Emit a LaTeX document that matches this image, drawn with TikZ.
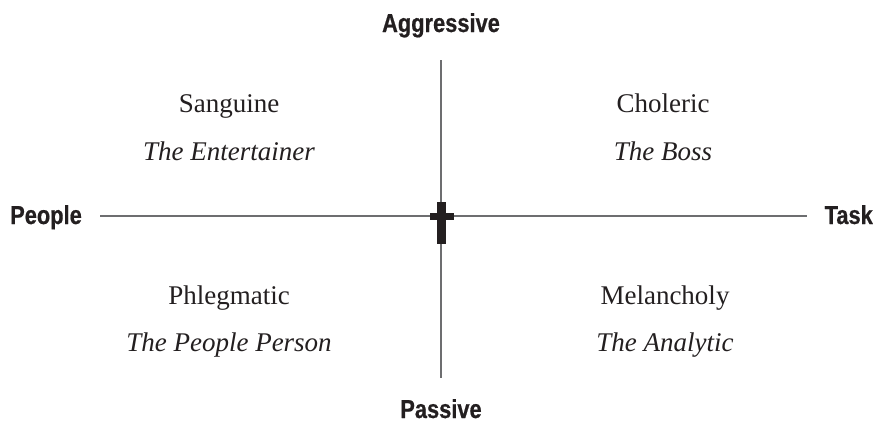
\documentclass[tikz,border=0pt]{standalone}
\usepackage{fontspec}
\setmainfont{Liberation Serif}
\newfontfamily\axisfont{Liberation Sans}[FakeStretch=0.84,FakeBold=0.6]
\usepackage{tikz}
\usetikzlibrary{positioning,calc}
\definecolor{ink}{HTML}{231F20}
\definecolor{axisgray}{HTML}{6D6E70}

\begin{document}
\begin{tikzpicture}[
    x=1pt, y=-1pt,
    every node/.style={inner sep=0pt, text=ink},
    axislabel/.style={font=\axisfont\bfseries\fontsize{26}{30}\selectfont},
    typelabel/.style={font=\fontsize{27}{31}\selectfont, anchor=base},
    nicklabel/.style={font=\itshape\fontsize{27}{31}\selectfont, anchor=base},
    axisline/.style={draw=axisgray, line width=1.5pt}
]
  \useasboundingbox (0,0) rectangle (886,423);

  % axis labels
  \node[axislabel, anchor=base] (Agg) at (441,32) {Aggressive};
  \node[axislabel, anchor=base] (Pas) at (441,418) {Passive};
  \node[axislabel, anchor=base west] (Peo) at (10,224) {People};
  \node[axislabel, anchor=base east] (Tas) at (873,224) {Task};

  % axis ends
  \coordinate (N) at (441,60);
  \coordinate (S) at (441,378);
  \coordinate (W) at (100,216);
  \coordinate (E) at (807,216);
  \coordinate (O) at (441.5,216.5);

  % quadrants
  \node[typelabel] (San) at (229,112) {Sanguine};
  \node[nicklabel] (Ent) at (229,160) {The Entertainer};
  \node[typelabel] (Cho) at (663,112) {Choleric};
  \node[nicklabel] (Bos) at (663,160) {The Boss};
  \node[typelabel] (Phl) at (229,304) {Phlegmatic};
  \node[nicklabel] (Per) at (229,351) {The People Person};
  \node[typelabel] (Mel) at (665,304) {Melancholy};
  \node[nicklabel] (Ana) at (665,351) {The Analytic};

  % axes
  \draw[axisline] (W) -- (E);
  \draw[axisline] (N) -- (S);

  % cross
  \fill[ink] ($(O)+(-4.5,-14.5)$) rectangle ($(O)+(4.5,27.5)$);
  \fill[ink] ($(O)+(-12,-3.5)$) rectangle ($(O)+(12,3.5)$);
\end{tikzpicture}
\end{document}
